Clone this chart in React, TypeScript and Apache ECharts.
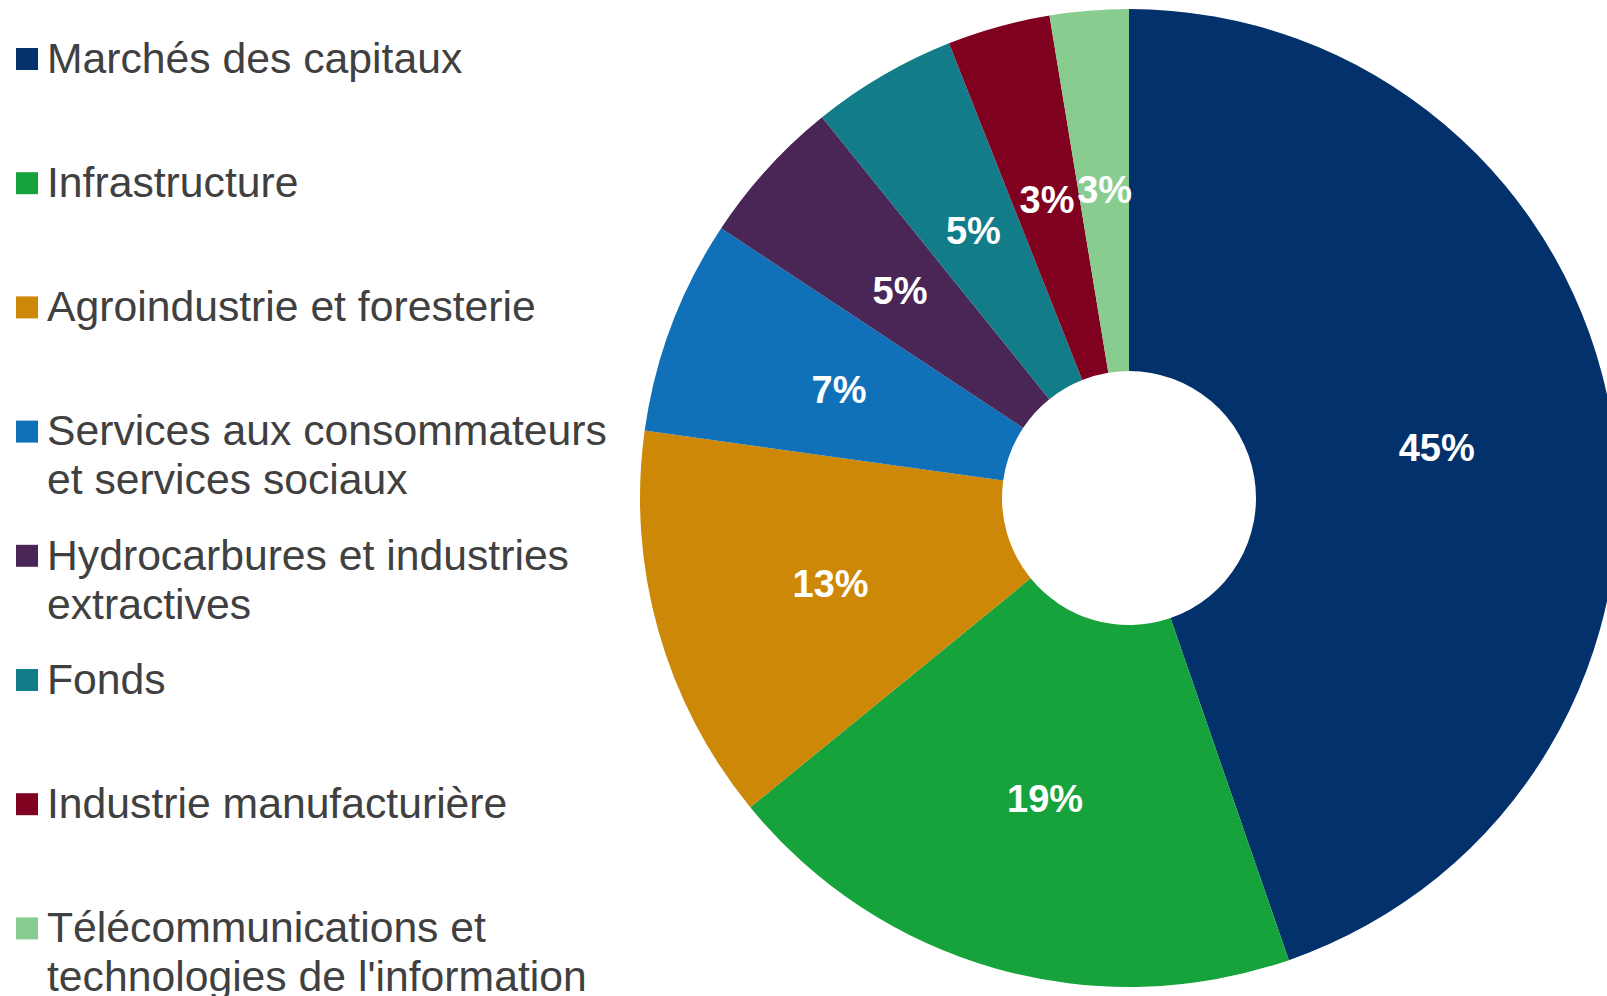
import React, { useEffect, useRef } from "react";
import * as echarts from "echarts";

// Legend labels (with the reference's line breaks)
const categories: string[] = [
  "Marchés des capitaux",
  "Infrastructure",
  "Agroindustrie et foresterie",
  "Services aux consommateurs\net services sociaux",
  "Hydrocarbures et industries\nextractives",
  "Fonds",
  "Industrie manufacturière",
  "Télécommunications et\ntechnologies de l'information",
];

// Share of each sector (%)
const shares: number[] = [44.7, 19.4, 13.1, 7.1, 4.9, 4.8, 3.4, 2.6];

const colors: string[] = [
  "#02316B",
  "#16A33B",
  "#CC8806",
  "#1071B8",
  "#4A2657",
  "#127C88",
  "#800020",
  "#88CC90",
];

const FONT = '"Liberation Sans", Arial, Helvetica, sans-serif';

export default function App() {
  const ref = useRef<HTMLDivElement>(null);

  useEffect(() => {
    if (!ref.current) return;
    const chart = echarts.init(ref.current, undefined, { renderer: "svg" });

    const step = 124.2;
    const legendGraphics = categories.map((label, i) => ({
      type: "group",
      children: [
        {
          type: "rect",
          shape: { x: 16, y: 48 + step * i, width: 22, height: 22 },
          style: { fill: colors[i] },
        },
        {
          type: "text",
          x: 47,
          y: 33.2 + step * i,
          style: {
            text: label,
            fontSize: 42.7,
            fontFamily: FONT,
            fill: "#404040",
            lineHeight: 49,
            align: "left",
            verticalAlign: "top",
          },
        },
      ],
    }));

    chart.setOption({
      animation: false,
      backgroundColor: "#ffffff",
      graphic: legendGraphics,
      series: [
        {
          type: "pie",
          center: [1129, 498],
          radius: [127, 489],
          startAngle: 90,
          clockwise: true,
          silent: true,
          avoidLabelOverlap: false,
          itemStyle: { borderWidth: 0 },
          label: {
            show: true,
            position: "inside",
            color: "#ffffff",
            fontSize: 38,
            fontWeight: "bold",
            fontFamily: FONT,
            offset: [1, 2],
            formatter: (p: any) => `${Math.round(p.value)}%`,
          },
          labelLine: { show: false },
          emphasis: { disabled: true },
          data: shares.map((v, i) => ({
            name: categories[i].replace("\n", " "),
            value: v,
            itemStyle: { color: colors[i] },
          })),
        },
      ],
    });

    return () => chart.dispose();
  }, []);

  return (
    <div
      ref={ref}
      style={{ position: "absolute", left: 0, top: 0, width: 1607, height: 996 }}
    />
  );
}
